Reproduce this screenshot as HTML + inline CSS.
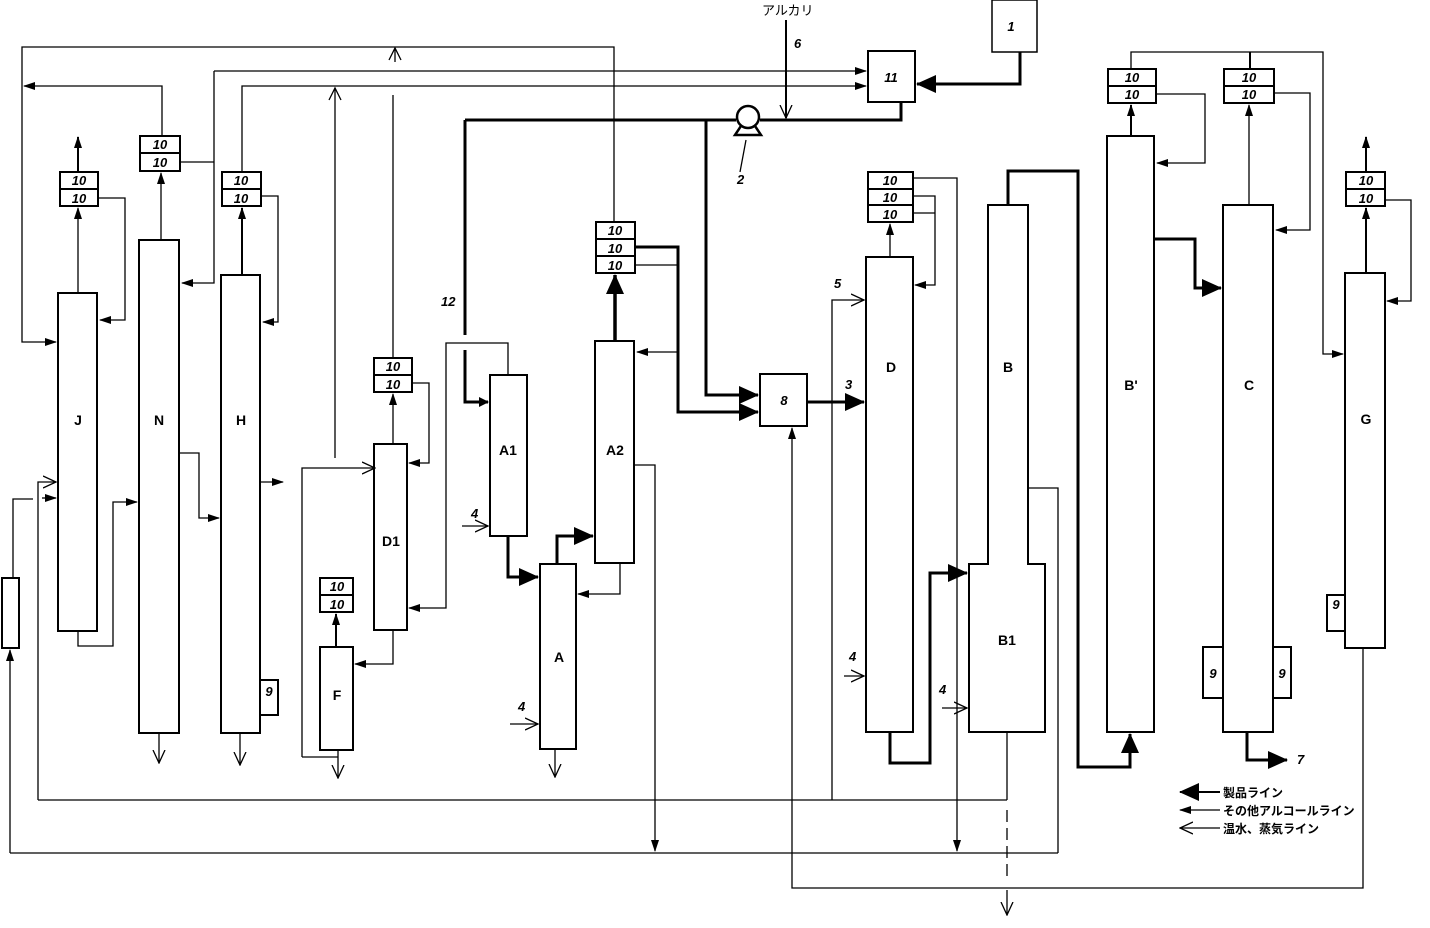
<!DOCTYPE html>
<html><head><meta charset="utf-8"><style>
html,body{margin:0;padding:0;background:#fff}
svg{display:block}
text{font-family:"Liberation Sans","Noto Sans CJK JP",sans-serif;fill:#000}
.l{font-weight:bold;font-size:14px}
.n{font-style:italic;font-weight:bold;font-size:13px}
</style></head><body>
<svg width="1430" height="928" viewBox="0 0 1430 928" xmlns="http://www.w3.org/2000/svg">
<defs>
<marker id="big" markerWidth="10" markerHeight="10" refX="9" refY="5" orient="auto" markerUnits="userSpaceOnUse" viewBox="0 0 10 10"><path d="M0,0L10,5L0,10z"/></marker>
<marker id="big2" markerWidth="20" markerHeight="18" refX="19" refY="9" orient="auto" markerUnits="userSpaceOnUse" viewBox="0 0 20 18"><path d="M0,0L20,9L0,18z"/></marker>
<marker id="sm" markerWidth="12" markerHeight="8" refX="11" refY="4" orient="auto" markerUnits="userSpaceOnUse" viewBox="0 0 12 8"><path d="M0,0L12,4L0,8z"/></marker>
<marker id="op" markerWidth="14" markerHeight="14" refX="13" refY="7" orient="auto" markerUnits="userSpaceOnUse" viewBox="0 0 14 14"><path d="M0,1L13,7L0,13" fill="none" stroke="#000" stroke-width="1.3"/></marker>
</defs>
<g fill="none" stroke="#000" stroke-width="1.3">
<!-- top thin lines -->
<polyline points="614,222 614,47 22,47 22,342 56,342" marker-end="url(#sm)"/>
<polyline points="395,62 395,48"/>
<path d="M389,60L395,48L401,60"/>
<polyline points="162,136 162,86 24,86" marker-end="url(#sm)"/>
<polyline points="180,162 214,162"/>
<polyline points="214,71 214,283 182,283" marker-end="url(#sm)"/>
<polyline points="214,71 866,71" marker-end="url(#sm)"/>
<polyline points="242,172 242,86 866,86" marker-end="url(#sm)"/>
<polyline points="335,458 335,88"/>
<path d="M329,100L335,88L341,100"/>
<polyline points="393,358 393,95"/>
<!-- J -->
<rect x="58" y="293" width="39" height="338" stroke-width="2"/>
<rect x="60" y="172" width="38" height="34" stroke-width="2"/><line x1="60" y1="189" x2="98" y2="189" stroke-width="2"/>
<line x1="78" y1="293" x2="78" y2="208" marker-end="url(#sm)"/>
<line x1="78" y1="172" x2="78" y2="137" stroke-width="2" marker-end="url(#sm)"/>
<polyline points="98,198 125,198 125,320 100,320" marker-end="url(#sm)"/>
<!-- N -->
<rect x="139" y="240" width="40" height="493" stroke-width="2"/>
<rect x="140" y="136" width="40" height="35" stroke-width="2"/><line x1="140" y1="153" x2="180" y2="153" stroke-width="2"/>
<line x1="161" y1="240" x2="161" y2="173" marker-end="url(#sm)"/>
<line x1="159" y1="733" x2="159" y2="763" marker-end="url(#op)"/>
<!-- H -->
<rect x="221" y="275" width="39" height="458" stroke-width="2"/>
<rect x="222" y="172" width="39" height="34" stroke-width="2"/><line x1="222" y1="189" x2="261" y2="189" stroke-width="2"/>
<line x1="242" y1="275" x2="242" y2="208" stroke-width="2" marker-end="url(#sm)"/>
<polyline points="261,196 278,196 278,322 263,322" marker-end="url(#sm)"/>
<rect x="260" y="680" width="18" height="35" stroke-width="2"/>
<line x1="240" y1="733" x2="240" y2="765" marker-end="url(#op)"/>
<polyline points="260,482 283,482" marker-end="url(#sm)"/>
<!-- links J N H -->
<polyline points="78,631 78,646 113,646 113,502 137,502" marker-end="url(#sm)"/>
<polyline points="179,453 199,453 199,518 219,518" marker-end="url(#sm)"/>
<rect x="2" y="578" width="17" height="70" stroke-width="2"/>
<polyline points="13,578 13,499 33,499"/>
<polyline points="10,853 10,650" marker-end="url(#sm)"/>
<polyline points="38,800 38,482 56,482" marker-end="url(#op)"/>
<line x1="42" y1="498" x2="56" y2="498" marker-end="url(#sm)"/>
<line x1="38" y1="800" x2="1007" y2="800"/>
<line x1="10" y1="853" x2="1058" y2="853"/>
<!-- D1 F -->
<rect x="374" y="444" width="33" height="186" stroke-width="2"/>
<rect x="374" y="358" width="38" height="34" stroke-width="2"/><line x1="374" y1="375" x2="412" y2="375" stroke-width="2"/>
<line x1="393" y1="444" x2="393" y2="394" marker-end="url(#sm)"/>
<polyline points="412,383 429,383 429,463 409,463" marker-end="url(#sm)"/>
<polyline points="302,757 302,468 375,468" marker-end="url(#op)"/>
<polyline points="302,757 338,757"/>
<line x1="338" y1="750" x2="338" y2="778" marker-end="url(#op)"/>
<rect x="320" y="647" width="33" height="103" stroke-width="2"/>
<rect x="320" y="578" width="33" height="34" stroke-width="2"/><line x1="320" y1="595" x2="353" y2="595" stroke-width="2"/>
<line x1="336" y1="647" x2="336" y2="614" stroke-width="2" marker-end="url(#sm)"/>
<polyline points="393,630 393,664 355,664" marker-end="url(#sm)"/>
<!-- A1 A2 A -->
<rect x="490" y="375" width="37" height="161" stroke-width="2"/>
<rect x="595" y="341" width="39" height="222" stroke-width="2"/>
<rect x="540" y="564" width="36" height="185" stroke-width="2"/>
<polyline points="465,120 465,335" stroke-width="3"/>
<polyline points="465,350 465,402 488,402" stroke-width="3" marker-end="url(#big)"/>
<polyline points="508,375 508,343 446,343 446,608 409,608" marker-end="url(#sm)"/>
<polyline points="462,526 488,526" marker-end="url(#op)"/>
<polyline points="508,536 508,577 538,577" stroke-width="3" marker-end="url(#big2)"/>
<polyline points="557,564 557,536 593,536" stroke-width="3" marker-end="url(#big2)"/>
<polyline points="620,563 620,594 578,594" marker-end="url(#sm)"/>
<line x1="555" y1="749" x2="555" y2="777" marker-end="url(#op)"/>
<polyline points="510,724 538,724" marker-end="url(#op)"/>
<rect x="596" y="222" width="39" height="51" stroke-width="2"/><line x1="596" y1="239" x2="635" y2="239" stroke-width="2"/><line x1="596" y1="256" x2="635" y2="256" stroke-width="2"/>
<line x1="615" y1="341" x2="615" y2="275" stroke-width="3.5" marker-end="url(#big2)"/>
<polyline points="635,247 678,247 678,412 758,412" stroke-width="3" marker-end="url(#big2)"/>
<polyline points="635,265 678,265"/>
<polyline points="678,352 637,352" marker-end="url(#sm)"/>
<polyline points="634,465 655,465 655,851" marker-end="url(#sm)"/>
<!-- top thick -->
<polyline points="465,120 736,120" stroke-width="3"/>
<polyline points="760,120 901,120 901,102" stroke-width="3"/>
<circle cx="748" cy="117" r="11" stroke-width="2.5"/>
<path d="M741,126L735,135L761,135L755,126" stroke-width="2.5"/>
<line x1="746" y1="140" x2="740" y2="172"/>
<polyline points="706,120 706,395 758,395" stroke-width="3" marker-end="url(#big2)"/>
<line x1="786" y1="20" x2="786" y2="118" stroke-width="2" marker-end="url(#op)"/>
<polyline points="1020,52 1020,84 917,84" stroke-width="3" marker-end="url(#big2)"/>
<rect x="868" y="51" width="47" height="51" stroke-width="2"/>
<rect x="992" y="0" width="45" height="52" stroke-width="1.5"/>
<!-- 8 -->
<rect x="760" y="374" width="47" height="52" stroke-width="2"/>
<polyline points="807,402 864,402" stroke-width="3" marker-end="url(#big2)"/>
<polyline points="1363,648 1363,888 792,888 792,428" marker-end="url(#sm)"/>
<!-- D -->
<rect x="866" y="257" width="47" height="475" stroke-width="2"/>
<rect x="868" y="172" width="45" height="50" stroke-width="2"/><line x1="868" y1="189" x2="913" y2="189" stroke-width="2"/><line x1="868" y1="205" x2="913" y2="205" stroke-width="2"/>
<line x1="890" y1="257" x2="890" y2="224" marker-end="url(#sm)"/>
<polyline points="913,178 957,178 957,851" marker-end="url(#sm)"/>
<polyline points="913,196 935,196 935,285 915,285" marker-end="url(#sm)"/>
<polyline points="913,213 935,213"/>
<polyline points="832,800 832,300 864,300" marker-end="url(#op)"/>
<polyline points="844,676 864,676" marker-end="url(#op)"/>
<polyline points="890,732 890,763 930,763 930,573 967,573" stroke-width="3" marker-end="url(#big2)"/>
<!-- B B1 -->
<path d="M988,564 L988,205 L1028,205 L1028,564 L1045,564 L1045,732 L969,732 L969,564 Z" stroke-width="2"/>
<polyline points="942,708 967,708" marker-end="url(#op)"/>
<polyline points="1028,488 1058,488 1058,853"/>
<polyline points="1007,732 1007,800"/>
<polyline points="1007,810 1007,880" stroke-dasharray="12,6"/>
<line x1="1007" y1="890" x2="1007" y2="915" marker-end="url(#op)"/>
<polyline points="1008,205 1008,171 1078,171 1078,767 1130,767 1130,734" stroke-width="3" marker-end="url(#big2)"/>
<!-- B' -->
<rect x="1107" y="136" width="47" height="596" stroke-width="2"/>
<rect x="1108" y="69" width="48" height="34" stroke-width="2"/><line x1="1108" y1="86" x2="1156" y2="86" stroke-width="2"/>
<line x1="1131" y1="136" x2="1131" y2="105" stroke-width="2" marker-end="url(#sm)"/>
<polyline points="1156,94 1205,94 1205,163 1157,163" marker-end="url(#sm)"/>
<polyline points="1154,239 1195,239 1195,288 1221,288" stroke-width="3" marker-end="url(#big2)"/>
<polyline points="1131,69 1131,52 1323,52 1323,354 1343,354" marker-end="url(#sm)"/>
<!-- C -->
<rect x="1223" y="205" width="50" height="527" stroke-width="2"/>
<rect x="1224" y="69" width="50" height="34" stroke-width="2"/><line x1="1224" y1="86" x2="1274" y2="86" stroke-width="2"/>
<line x1="1250" y1="69" x2="1250" y2="52" stroke-width="2"/>
<line x1="1249" y1="205" x2="1249" y2="105" marker-end="url(#sm)"/>
<polyline points="1274,93 1310,93 1310,230 1276,230" marker-end="url(#sm)"/>
<rect x="1203" y="647" width="20" height="51" stroke-width="2"/>
<rect x="1273" y="647" width="18" height="51" stroke-width="2"/>
<polyline points="1247,732 1247,760 1287,760" stroke-width="3" marker-end="url(#big2)"/>
<!-- G -->
<rect x="1345" y="273" width="40" height="375" stroke-width="2"/>
<rect x="1346" y="172" width="39" height="34" stroke-width="2"/><line x1="1346" y1="189" x2="1385" y2="189" stroke-width="2"/>
<line x1="1366" y1="273" x2="1366" y2="208" stroke-width="2" marker-end="url(#sm)"/>
<line x1="1366" y1="172" x2="1366" y2="137" stroke-width="2" marker-end="url(#sm)"/>
<polyline points="1385,200 1411,200 1411,301 1387,301" marker-end="url(#sm)"/>
<rect x="1327" y="595" width="18" height="36" stroke-width="2"/>
<!-- legend -->
<line x1="1220" y1="792" x2="1180" y2="792" stroke-width="2" marker-end="url(#big2)"/>
<line x1="1220" y1="810" x2="1180" y2="810" marker-end="url(#sm)"/>
<line x1="1220" y1="828" x2="1180" y2="828" marker-end="url(#op)"/>
</g>
<g>
<text x="78" y="425" class="l" text-anchor="middle">J</text>
<text x="159" y="425" class="l" text-anchor="middle">N</text>
<text x="241" y="425" class="l" text-anchor="middle">H</text>
<text x="391" y="546" class="l" text-anchor="middle">D1</text>
<text x="337" y="700" class="l" text-anchor="middle">F</text>
<text x="508" y="455" class="l" text-anchor="middle">A1</text>
<text x="615" y="455" class="l" text-anchor="middle">A2</text>
<text x="559" y="662" class="l" text-anchor="middle">A</text>
<text x="891" y="372" class="l" text-anchor="middle">D</text>
<text x="1008" y="372" class="l" text-anchor="middle">B</text>
<text x="1007" y="645" class="l" text-anchor="middle">B1</text>
<text x="1131" y="390" class="l" text-anchor="middle">B'</text>
<text x="1249" y="390" class="l" text-anchor="middle">C</text>
<text x="1366" y="424" class="l" text-anchor="middle">G</text>
<g class="n" text-anchor="middle">
<text x="79" y="185" class="n">10</text><text x="79" y="203" class="n">10</text>
<text x="160" y="149" class="n">10</text><text x="160" y="167" class="n">10</text>
<text x="241" y="185" class="n">10</text><text x="241" y="203" class="n">10</text>
<text x="393" y="371" class="n">10</text><text x="393" y="389" class="n">10</text>
<text x="337" y="591" class="n">10</text><text x="337" y="609" class="n">10</text>
<text x="615" y="235" class="n">10</text><text x="615" y="253" class="n">10</text><text x="615" y="270" class="n">10</text>
<text x="890" y="185" class="n">10</text><text x="890" y="202" class="n">10</text><text x="890" y="219" class="n">10</text>
<text x="1132" y="82" class="n">10</text><text x="1132" y="99" class="n">10</text>
<text x="1249" y="82" class="n">10</text><text x="1249" y="99" class="n">10</text>
<text x="1366" y="185" class="n">10</text><text x="1366" y="203" class="n">10</text>
<text x="269" y="696" class="n">9</text>
<text x="1213" y="678" class="n">9</text><text x="1282" y="678" class="n">9</text>
<text x="1336" y="609" class="n">9</text>
<text x="891" y="82" class="n">11</text>
<text x="1011" y="31" class="n">1</text>
<text x="784" y="405" class="n">8</text>
</g>
<text x="441" y="306" class="n">12</text>
<text x="737" y="184" class="n">2</text>
<text x="794" y="48" class="n">6</text>
<text x="845" y="389" class="n">3</text>
<text x="834" y="288" class="n">5</text>
<text x="471" y="518" class="n">4</text>
<text x="518" y="711" class="n">4</text>
<text x="849" y="661" class="n">4</text>
<text x="939" y="694" class="n">4</text>
<text x="1297" y="764" class="n">7</text>
<text x="762" y="15" style="font-size:13px">アルカリ</text>
<text x="1223" y="797" style="font-size:12px;font-weight:bold">製品ライン</text>
<text x="1223" y="815" style="font-size:12px;font-weight:bold">その他アルコールライン</text>
<text x="1223" y="833" style="font-size:12px;font-weight:bold">温水、蒸気ライン</text>
</g>
</svg>
</body></html>
